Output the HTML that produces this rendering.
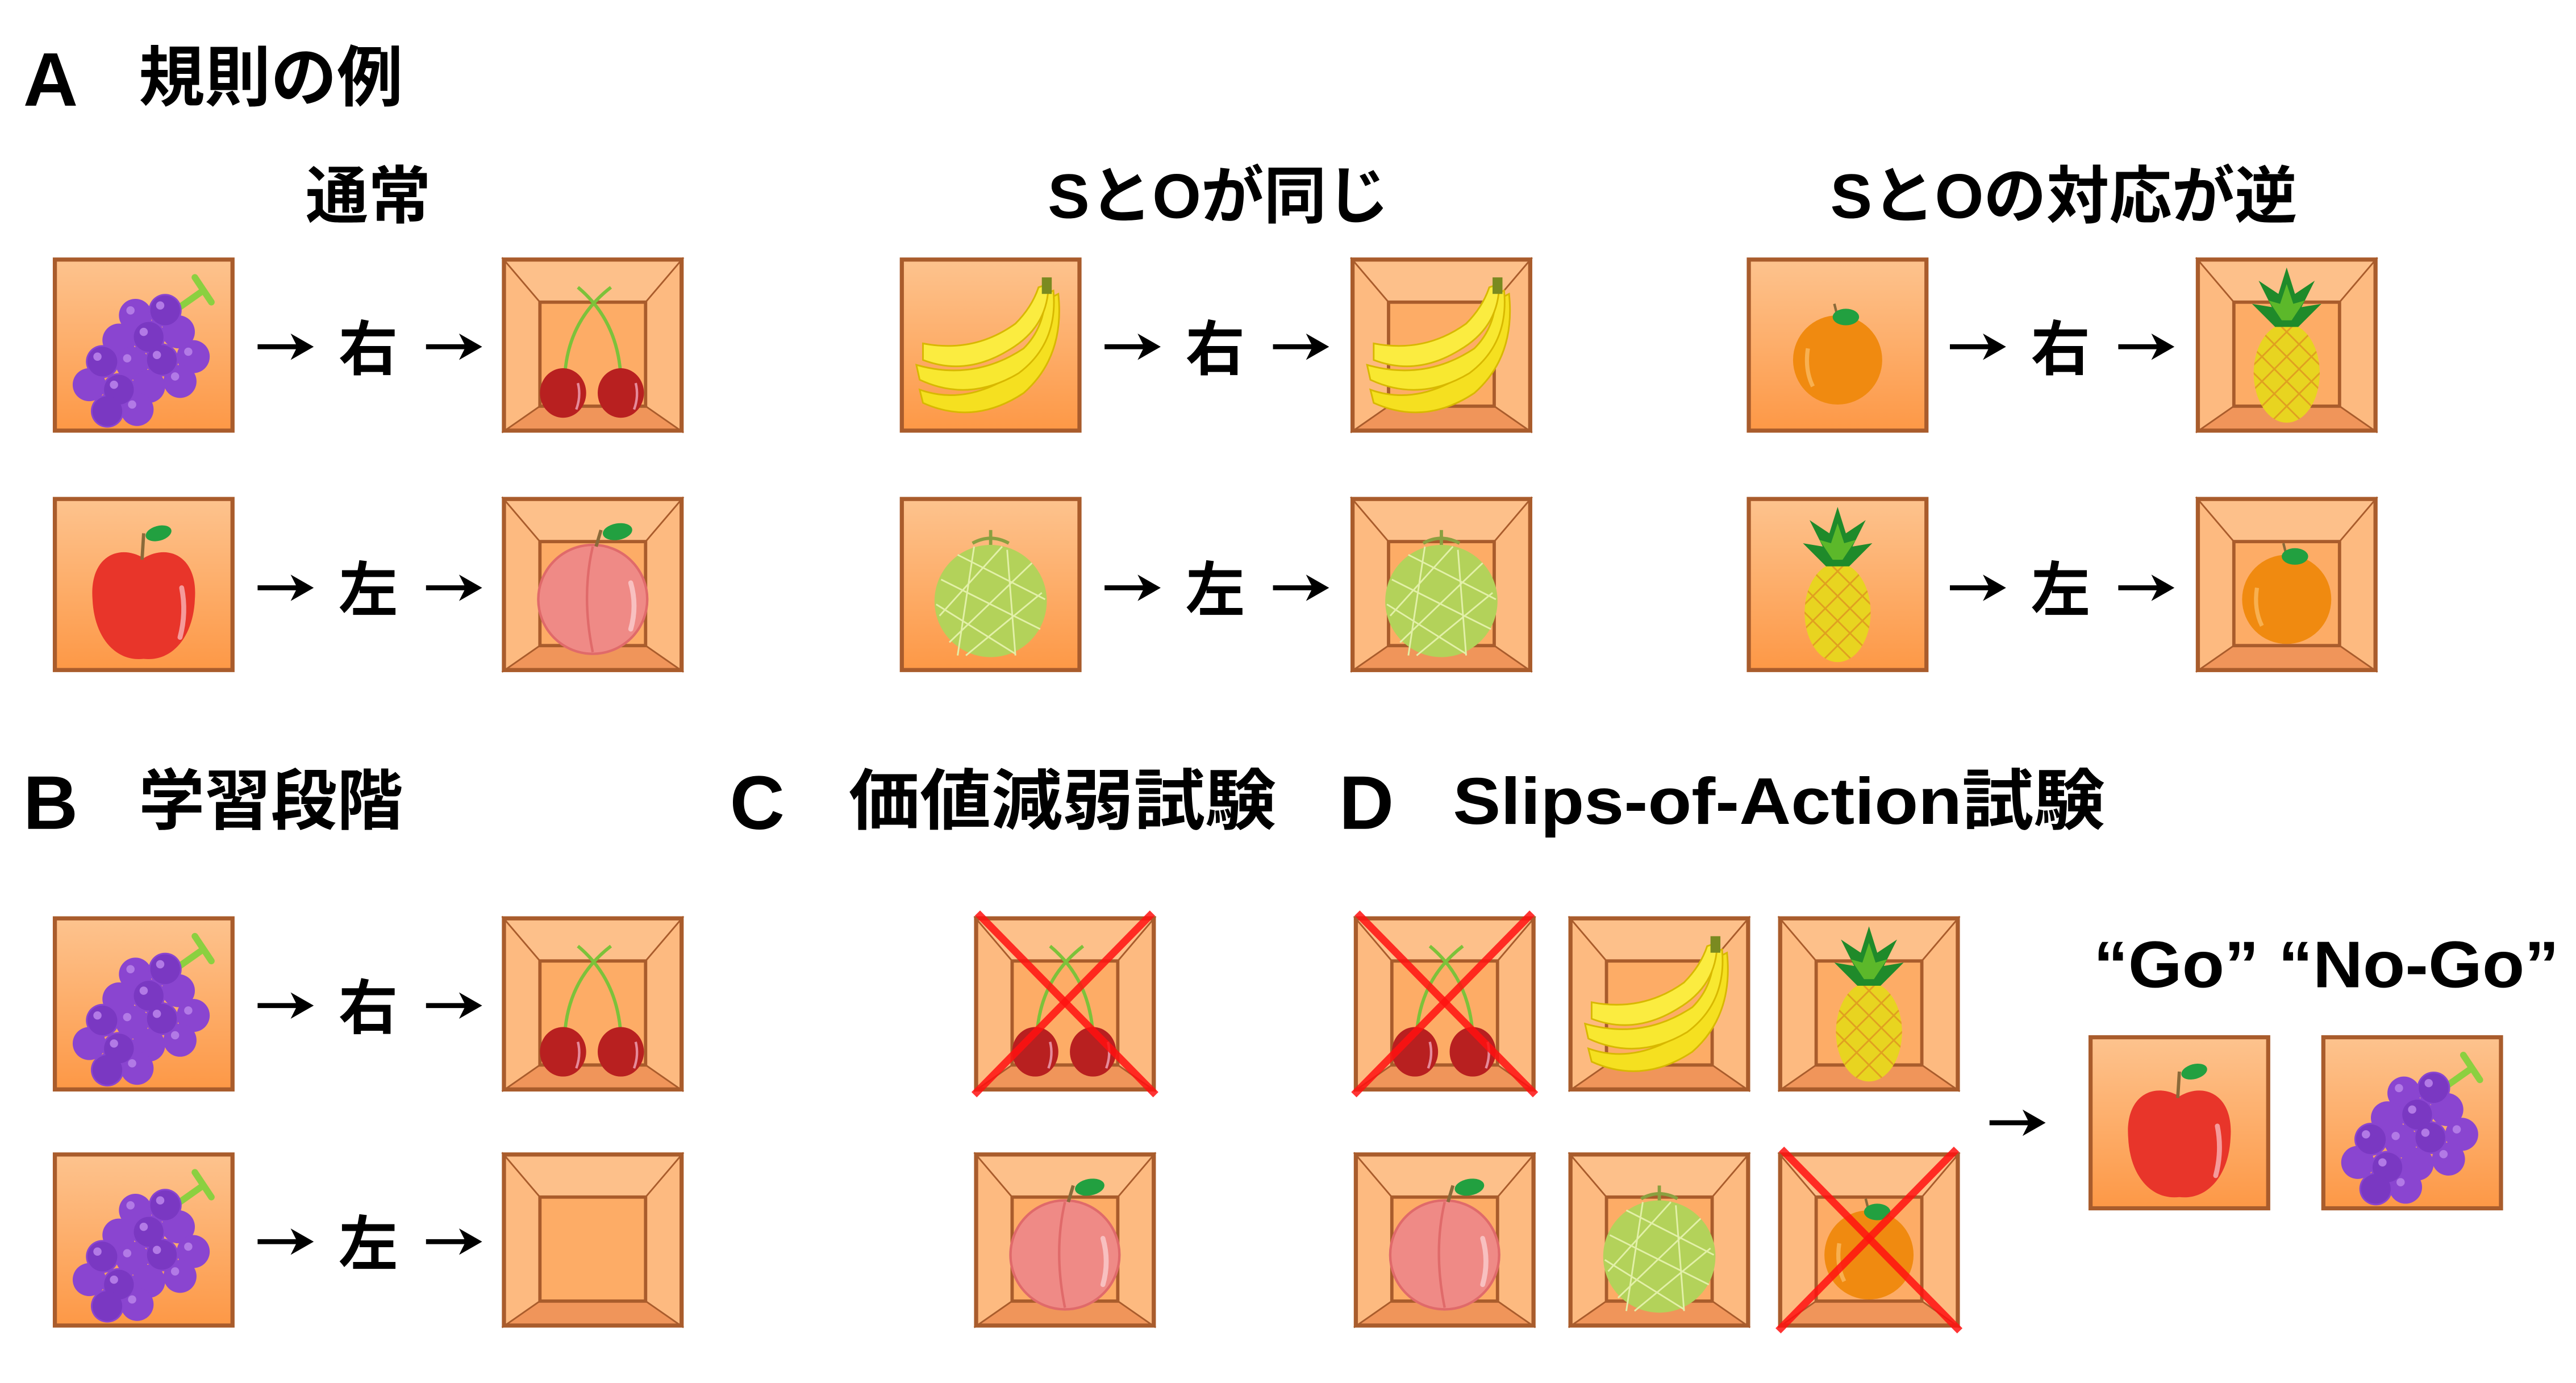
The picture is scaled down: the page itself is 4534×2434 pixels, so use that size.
<!DOCTYPE html>
<html><head><meta charset="utf-8"><style>html,body{margin:0;padding:0;background:#fff}svg{display:block}</style></head><body>
<svg xmlns="http://www.w3.org/2000/svg" xmlns:xlink="http://www.w3.org/1999/xlink" width="4534" height="2434" viewBox="0 0 1560.2 837.6">
<defs>
<linearGradient id="og" x1="0" y1="0" x2="0" y2="1"><stop offset="0" stop-color="#fdc38e"/><stop offset="1" stop-color="#fd9846"/></linearGradient>
<g id="flat"><rect x="1.2" y="1.2" width="107.6" height="103.6" fill="url(#og)" stroke="#a95c2c" stroke-width="2.5"/></g>
<g id="frame">
<rect x="0" y="0" width="110" height="106" fill="#fdc08a"/>
<polygon points="0,0 23,27 23,90 0,106" fill="#fdba80"/>
<polygon points="110,0 87,27 87,90 110,106" fill="#fdba80"/>
<polygon points="0,106 23,90 87,90 110,106" fill="#f0955a"/>
<rect x="23" y="27" width="64" height="63" fill="#fdac66" stroke="#a95c2c" stroke-width="2"/>
<g stroke="#a95c2c" stroke-width="1"><line x1="0" y1="0" x2="23" y2="27"/><line x1="110" y1="0" x2="87" y2="27"/><line x1="0" y1="106" x2="23" y2="90"/><line x1="110" y1="106" x2="87" y2="90"/></g>
<rect x="1.2" y="1.2" width="107.6" height="103.6" fill="none" stroke="#a95c2c" stroke-width="2.5"/>
</g>
<g id="grape">
<g stroke="#8bd040" stroke-width="4" stroke-linecap="round"><line x1="74" y1="32" x2="91" y2="20"/><line x1="86" y1="12" x2="96" y2="27"/></g>
<g fill="#8a45d0">
<circle cx="50" cy="35" r="10"/><circle cx="68" cy="32" r="10"/><circle cx="40" cy="50" r="10"/><circle cx="58" cy="48" r="10"/><circle cx="76" cy="45" r="10"/><circle cx="85" cy="60" r="10"/><circle cx="30" cy="63" r="10"/><circle cx="48" cy="64" r="10"/><circle cx="66" cy="62" r="10"/><circle cx="77" cy="75" r="10"/><circle cx="22" cy="77" r="10"/><circle cx="40" cy="80" r="10"/><circle cx="58" cy="78" r="10"/><circle cx="33" cy="93" r="10"/><circle cx="51" cy="92" r="10"/></g>
<g fill="#7a38c2"><circle cx="68" cy="32" r="9"/><circle cx="58" cy="48" r="9"/><circle cx="30" cy="63" r="9"/><circle cx="66" cy="62" r="9"/><circle cx="40" cy="80" r="9"/><circle cx="33" cy="93" r="9"/></g>
<g fill="#b27ae6"><circle cx="47" cy="32" r="2.5"/><circle cx="65" cy="29" r="2.5"/><circle cx="55" cy="45" r="2.5"/><circle cx="82" cy="57" r="2.5"/><circle cx="27" cy="60" r="2.5"/><circle cx="45" cy="61" r="2.5"/><circle cx="63" cy="59" r="2.5"/><circle cx="37" cy="77" r="2.5"/><circle cx="74" cy="72" r="2.5"/><circle cx="48" cy="89" r="2.5"/></g>
</g>
<g id="cherry">
<g stroke="#7cc23a" stroke-width="2" fill="none"><path d="M38,72 Q40,38 66,18"/><path d="M72,72 Q70,38 46,18"/></g>
<ellipse cx="37" cy="82" rx="14" ry="15" fill="#b82020"/><ellipse cx="72" cy="82" rx="14" ry="15" fill="#b82020"/>
<path d="M46,76 Q48,84 45,92" stroke="#e58a9a" stroke-width="1.5" fill="none"/><path d="M81,76 Q83,84 80,92" stroke="#e58a9a" stroke-width="1.5" fill="none"/>
</g>
<g id="apple">
<path d="M55,37 C40,28 22,36 24,62 C25,85 38,100 55,98 C72,100 85,85 86,62 C88,36 70,28 55,37 Z" fill="#e8352a"/>
<line x1="54" y1="38" x2="55" y2="22" stroke="#8a6a3a" stroke-width="2"/>
<ellipse cx="64" cy="22" rx="8" ry="4.5" fill="#22a040" transform="rotate(-15 64 22)"/>
<path d="M78,55 Q81,70 77,85" stroke="#f59a9a" stroke-width="3" fill="none" stroke-linecap="round"/>
</g>
<g id="peach">
<circle cx="55" cy="62" r="33" fill="#ef8a86" stroke="#e06a6a" stroke-width="1.5"/>
<path d="M55,30 Q48,60 55,94" stroke="#e06a6a" stroke-width="1.5" fill="none"/>
<path d="M78,52 Q82,66 78,80" stroke="#f8c0c0" stroke-width="3" fill="none" stroke-linecap="round"/>
<line x1="57" y1="30" x2="60" y2="20" stroke="#8a6a3a" stroke-width="2"/>
<ellipse cx="70" cy="21" rx="9" ry="5" fill="#22a040" transform="rotate(-10 70 21)"/>
</g>
<g id="banana">
<path d="M12,80 Q40,90 70,70 Q88,55 90,25 L96,22 Q100,60 75,82 Q45,102 14,88 Z" fill="#f5e020" stroke="#d8b800" stroke-width="1"/>
<path d="M10,65 Q45,75 75,55 Q88,42 88,22 L93,20 Q96,52 72,70 Q42,88 12,74 Z" fill="#f8e830" stroke="#d8b800" stroke-width="1"/>
<path d="M14,52 Q45,58 70,40 Q80,30 84,18 L90,16 Q90,42 66,56 Q40,72 14,62 Z" fill="#fbec40" stroke="#d8b800" stroke-width="1"/>
<rect x="86" y="12" width="6" height="10" fill="#7a8a20"/>
</g>
<g id="melon">
<circle cx="55" cy="63" r="34" fill="#b3d25a"/>
<g stroke="#e2f0a8" stroke-width="1" fill="none"><path d="M25,50 L85,80 M22,65 L70,95 M35,35 L88,62 M30,88 L80,40 M40,96 L86,58 M24,72 L62,30 M45,30 L35,96 M65,32 L70,96"/></g>
<path d="M44,28 Q55,22 66,28" stroke="#8aa040" stroke-width="2" fill="none"/><line x1="55" y1="29" x2="55" y2="20" stroke="#8aa040" stroke-width="2"/>
</g>
<g id="orange">
<circle cx="55" cy="62" r="27" fill="#f08a10"/>
<path d="M37,55 Q35,68 40,78" stroke="#f8b050" stroke-width="2.5" fill="none"/>
<line x1="55" y1="36" x2="53" y2="28" stroke="#8a6a3a" stroke-width="1.5"/>
<ellipse cx="60" cy="36" rx="8" ry="5" fill="#22a040"/>
</g>
<g id="pine">
<ellipse cx="55" cy="70" rx="20" ry="30" fill="#e8d420"/>
<clipPath id="pc"><ellipse cx="55" cy="70" rx="20" ry="30"/></clipPath>
<g clip-path="url(#pc)" stroke="#e0a020" stroke-width="1"><path d="M20,40 L90,110 M20,55 L90,125 M20,25 L90,95 M20,10 L90,80 M90,40 L20,110 M90,55 L20,125 M90,25 L20,95 M90,10 L20,80"/></g>
<polygon points="55,6 60,22 72,14 64,30 76,28 62,42 48,42 34,28 46,30 38,14 50,22" fill="#1f8a2a"/>
<polygon points="55,16 59,28 66,26 58,38 52,38 44,26 51,28" fill="#5cb82a"/>
</g>
<g id="xx" stroke="#ff1010" stroke-width="4.5" stroke-opacity="0.85"><line x1="2" y1="-2" x2="110" y2="108"/><line x1="108" y1="-2" x2="0" y2="108"/></g>
<g id="arr"><line x1="0" y1="0" x2="28" y2="0" stroke="#000" stroke-width="3"/><polygon points="34,0 20,-8 24,0 20,8" fill="#000"/></g>
</defs>

<g font-family="'Liberation Sans','Noto Sans CJK JP',sans-serif" font-weight="700" fill="#000">
<text x="14" y="64" font-size="46">A</text>
<text x="84" y="61" font-size="40">規則の例</text>
<text x="223" y="132" font-size="38" text-anchor="middle">通常</text>
<text x="738" y="132" font-size="38" text-anchor="middle">SとOが同じ</text>
<text x="1250" y="132" font-size="38" text-anchor="middle">SとOの対応が逆</text>
<text x="14" y="502" font-size="46">B</text>
<text x="84" y="499" font-size="40">学習段階</text>
<text x="442" y="502" font-size="46">C</text>
<text x="514" y="499" font-size="40" textLength="259" lengthAdjust="spacingAndGlyphs">価値減弱試験</text>
<text x="811" y="502" font-size="46">D</text>
<text x="880" y="499" font-size="40" textLength="395" lengthAdjust="spacingAndGlyphs">Slips-of-Action試験</text>
<text x="1268" y="598" font-size="40" textLength="282" lengthAdjust="spacingAndGlyphs">“Go” “No-Go”</text>
</g>

<!-- Section A -->
<g font-family="'Liberation Sans','Noto Sans CJK JP',sans-serif" font-weight="700" font-size="36" text-anchor="middle">
<text x="223" y="224">右</text><text x="223" y="370">左</text>
<text x="736" y="224">右</text><text x="736" y="370">左</text>
<text x="1248" y="224">右</text><text x="1248" y="370">左</text>
<text x="223" y="623">右</text><text x="223" y="766">左</text>
</g>
<g>
<use xlink:href="#arr" x="156" y="210"/><use xlink:href="#arr" x="258" y="210"/>
<use xlink:href="#arr" x="156" y="356"/><use xlink:href="#arr" x="258" y="356"/>
<use xlink:href="#arr" x="669" y="210"/><use xlink:href="#arr" x="771" y="210"/>
<use xlink:href="#arr" x="669" y="356"/><use xlink:href="#arr" x="771" y="356"/>
<use xlink:href="#arr" x="1181" y="210"/><use xlink:href="#arr" x="1283" y="210"/>
<use xlink:href="#arr" x="1181" y="356"/><use xlink:href="#arr" x="1283" y="356"/>
<use xlink:href="#arr" x="156" y="609"/><use xlink:href="#arr" x="258" y="609"/>
<use xlink:href="#arr" x="156" y="752"/><use xlink:href="#arr" x="258" y="752"/>
<use xlink:href="#arr" x="1205" y="680"/>
</g>

<g transform="translate(32,156)"><use xlink:href="#flat"/><use xlink:href="#grape"/></g>
<g transform="translate(304,156)"><use xlink:href="#frame"/><use xlink:href="#cherry"/></g>
<g transform="translate(32,301)"><use xlink:href="#flat"/><use xlink:href="#apple"/></g>
<g transform="translate(304,301)"><use xlink:href="#frame"/><use xlink:href="#peach"/></g>

<g transform="translate(545,156)"><use xlink:href="#flat"/><use xlink:href="#banana"/></g>
<g transform="translate(818,156)"><use xlink:href="#frame"/><use xlink:href="#banana"/></g>
<g transform="translate(545,301)"><use xlink:href="#flat"/><use xlink:href="#melon"/></g>
<g transform="translate(818,301)"><use xlink:href="#frame"/><use xlink:href="#melon"/></g>

<g transform="translate(1058,156)"><use xlink:href="#flat"/><use xlink:href="#orange"/></g>
<g transform="translate(1330,156)"><use xlink:href="#frame"/><use xlink:href="#pine"/></g>
<g transform="translate(1058,301)"><use xlink:href="#flat"/><use xlink:href="#pine"/></g>
<g transform="translate(1330,301)"><use xlink:href="#frame"/><use xlink:href="#orange"/></g>

<!-- B -->
<g transform="translate(32,555)"><use xlink:href="#flat"/><use xlink:href="#grape"/></g>
<g transform="translate(304,555)"><use xlink:href="#frame"/><use xlink:href="#cherry"/></g>
<g transform="translate(32,698)"><use xlink:href="#flat"/><use xlink:href="#grape"/></g>
<g transform="translate(304,698)"><use xlink:href="#frame"/></g>

<!-- C -->
<g transform="translate(590,555)"><use xlink:href="#frame"/><use xlink:href="#cherry"/><use xlink:href="#xx"/></g>
<g transform="translate(590,698)"><use xlink:href="#frame"/><use xlink:href="#peach"/></g>

<!-- D -->
<g transform="translate(820,555)"><use xlink:href="#frame"/><use xlink:href="#cherry"/><use xlink:href="#xx"/></g>
<g transform="translate(950,555)"><use xlink:href="#frame"/><use xlink:href="#banana"/></g>
<g transform="translate(1077,555)"><use xlink:href="#frame"/><use xlink:href="#pine"/></g>
<g transform="translate(820,698)"><use xlink:href="#frame"/><use xlink:href="#peach"/></g>
<g transform="translate(950,698)"><use xlink:href="#frame"/><use xlink:href="#melon"/></g>
<g transform="translate(1077,698)"><use xlink:href="#frame"/><use xlink:href="#orange"/><use xlink:href="#xx"/></g>

<g transform="translate(1265,627)"><use xlink:href="#flat"/><use xlink:href="#apple"/></g>
<g transform="translate(1406,627)"><use xlink:href="#flat"/><use xlink:href="#grape"/></g>
</svg>
</body></html>
